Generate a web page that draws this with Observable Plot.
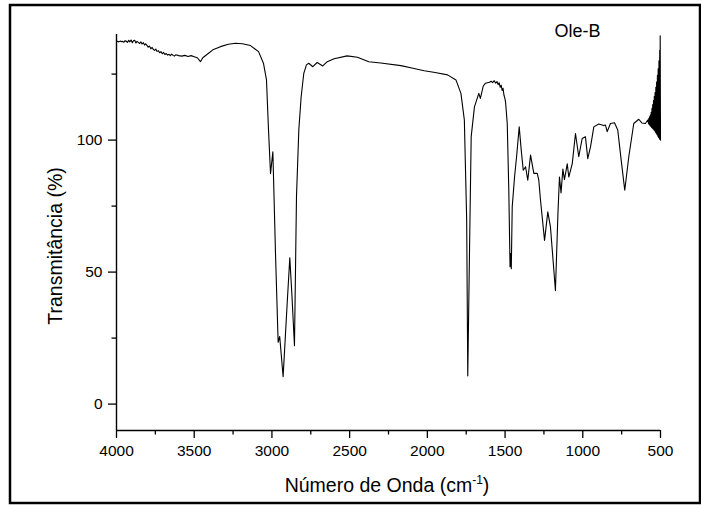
<!DOCTYPE html>
<html>
<head>
<meta charset="utf-8">
<script src="https://cdn.jsdelivr.net/npm/d3@7"></script>
<script src="https://cdn.jsdelivr.net/npm/@observablehq/plot@0.6"></script>
<style>
  html, body { margin: 0; padding: 0; background: #fff; }
  #chart { width: 701px; height: 505px; }
</style>
</head>
<body>
<div id="chart"></div>
<script>
// Spectrum data (wavenumber in cm^-1, transmittance in %)
const wavenumber = [
  4000,3992,3985,3977,3968,3961,3952,3946,3937,3930,3921,3915,3906,3898,3891,3883,3875,3868,3860,3851,
  3843,3836,3827,3819,3812,3803,3796,3788,3779,3771,3764,3755,3747,3740,3731,3722,3714,3705,3697,3688,
  3680,3671,3662,3654,3645,3636,3628,3619,3600,3580,3560,3540,3520,3500,3480,3460,3445,3416,3380,3331,
  3280,3234,3190,3138,3086,3054,3035,3022,3009,2994,2977,2960,2950,2928,2902,2885,2872,2855,2842,2827,
  2812,2795,2778,2763,2737,2709,2673,2644,2600,2516,2450,2377,2300,2170,2100,2020,1950,1870,1816,1784,
  1762,1747,1740,1729,1718,1697,1669,1659,1640,1627,1600,1590,1580,1570,1560,1552,1545,1538,1531,1525,
  1519,1513,1507,1502,1497,1486,1476,1468,1464,1460,1454,1439,1426,1409,1396,1383,1368,1354,1336,1315,
  1293,1283,1272,1246,1225,1208,1176,1160,1150,1140,1128,1118,1100,1090,1068,1047,1026,1004,983,968,
  950,929,897,865,854,843,822,796,775,753,730,704,672,640,620,597,582,
  580,577,575,572,570,567,565,562,560,557,555,552,550,547,545,542,540,537,535,532,
  530,527,525,522,520,517,515,512,510,507,505,503,502,500
];
const transmittance = [
  137.3,137.4,137.2,137.5,137.3,137.4,137.1,137.6,137.5,137.0,137.8,137.2,137.9,136.9,137.6,137.8,136.8,137.4,137.0,136.6,
  137.2,136.4,136.9,136.0,136.5,135.8,135.2,135.6,134.6,135.1,134.4,134.0,134.5,133.6,133.9,133.1,133.5,132.7,133.2,132.4,
  132.8,132.2,132.5,132.0,132.6,132.1,131.8,132.3,132.0,131.8,132.1,131.7,132.0,131.6,131.2,129.7,131.2,132.5,134.2,135.4,
  136.3,136.7,136.5,135.8,133.5,129.0,122.8,103.8,87.3,95.6,57,23.4,25.6,10.4,38,55.4,41.9,22.1,78.5,103.8,
  116.4,125.3,128.5,129.1,127.8,129.4,128.1,129.7,130.8,131.9,131.4,129.7,129.2,128.2,127.3,126.3,125.6,124.7,122.8,117.7,
  107.6,69.6,10.7,57,101.3,112.6,117.7,115.8,120.5,121.5,121.9,122.3,121.8,122.5,121.6,122.2,121.0,121.7,120.0,120.8,
  118.8,119.6,117.0,116.0,114.5,106.3,81,52,57,51.3,74.7,86,93.7,105,96.2,88.6,89.9,84.8,94.3,87.4,
  87.4,84.8,77.2,62,72.8,67.1,43,72,86,80,89,85,91,86,91,102.5,93.7,100.6,101.3,93,
  97.5,105,106.1,105.5,105.7,103.2,106.3,106.6,103.8,92.4,81,93.7,106.3,107.9,106.5,106.3,107.6,
  107.5,106.2,108.3,105.8,108.8,105.5,109.5,105.2,110.5,104.8,112.0,104.5,113.5,104.2,115.0,103.8,116.5,103.5,118.0,103.0,
  120.0,102.5,122.0,102.0,124.5,101.5,127.0,101.0,130.0,100.5,134.0,100.2,139.5,100.0
];

const xDomain = [4000, 500];
const yDomain = [-10, 140];
const xMajorTicks = [4000, 3500, 3000, 2500, 2000, 1500, 1000, 500];
const xMinorTicks = [3750, 3250, 2750, 2250, 1750, 1250, 750];
const yMajorTicks = [0, 50, 100];
const yMinorTicks = [25, 75, 125];
const sampleLabel = [{x: 1034, y: 141.4, text: "Ole-B"}];
const xTitle = "Número de Onda (cm";
const xTitleSup = "-1";
const yTitle = "Transmitância (%)";

const spectrum = wavenumber.map((w, i) => ({w, t: transmittance[i]}));

const font = "'Liberation Sans', Arial, Helvetica, sans-serif";

const plot = Plot.plot({
  width: 701,
  height: 505,
  marginLeft: 116,
  marginRight: 41,
  marginTop: 34,
  marginBottom: 75,
  style: {fontFamily: font, fontSize: "15.5px", background: "#fff", color: "#000", overflow: "visible"},
  x: {domain: xDomain, label: null},
  y: {domain: yDomain, label: null},
  marks: [
    Plot.axisX({ticks: xMajorTicks, tickSize: 8, tickPadding: 6, tickFormat: d => String(d), strokeWidth: 1.3, label: null}),
    Plot.axisX({ticks: xMinorTicks, tickSize: 4.5, text: null, strokeWidth: 1.3, label: null}),
    Plot.axisY({ticks: yMajorTicks, tickSize: 8, tickPadding: 6, tickFormat: d => String(d), strokeWidth: 1.3, label: null}),
    Plot.axisY({ticks: yMinorTicks, tickSize: 4.5, text: null, strokeWidth: 1.3, label: null}),
    Plot.ruleY([yDomain[0]], {stroke: "#000", strokeWidth: 1.4}),
    Plot.ruleX([xDomain[0]], {stroke: "#000", strokeWidth: 1.4}),
    Plot.line(spectrum, {x: "w", y: "t", stroke: "#000", strokeWidth: 1.1}),
    Plot.text(sampleLabel, {x: "x", y: "y", text: "text", fontSize: 18, textAnchor: "middle", fill: "#000"})
  ]
});

document.getElementById("chart").appendChild(plot);

const svg = d3.select(plot);
// outer border
svg.append("rect")
  .attr("x", 10).attr("y", 5).attr("width", 690).attr("height", 498)
  .attr("fill", "none").attr("stroke", "#000").attr("stroke-width", 2.5);

// x title with superscript
const xt = svg.append("text")
  .attr("x", 387).attr("y", 492)
  .attr("text-anchor", "middle")
  .attr("font-family", font).attr("font-size", 19.5).attr("fill", "#000");
xt.append("tspan").text(xTitle);
xt.append("tspan").attr("font-size", 12).attr("dy", -8).text(xTitleSup);
xt.append("tspan").attr("dy", 8).text(")");

// y title
svg.append("text")
  .attr("transform", "translate(62,246) rotate(-90)")
  .attr("text-anchor", "middle")
  .attr("font-family", font).attr("font-size", 19.5).attr("fill", "#000")
  .text(yTitle);
</script>
</body>
</html>
